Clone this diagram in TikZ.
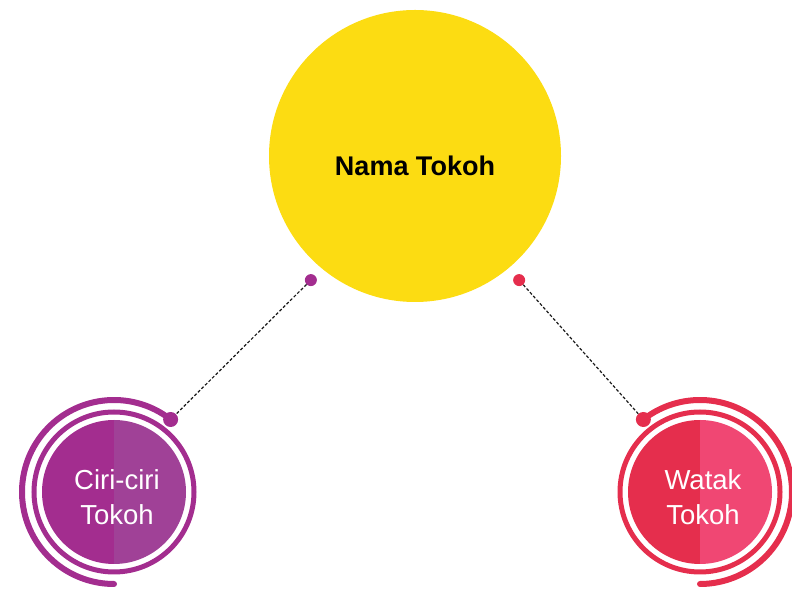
\documentclass[tikz,border=0pt]{standalone}
\usepackage{fontspec}
\setmainfont{Liberation Sans}
\usetikzlibrary{calc}
\definecolor{Sun}{HTML}{FCDC12}
\definecolor{PlumDeep}{HTML}{A32D8F}
\definecolor{PlumSoft}{HTML}{A04197}
\definecolor{RoseDeep}{HTML}{E52E4D}
\definecolor{RoseSoft}{HTML}{F04773}

\begin{document}
\begin{tikzpicture}[x=1pt,y=1pt,
  hub/.style={circle,fill=Sun,minimum size=292pt,inner sep=0pt},
  knob/.style={circle,inner sep=0pt,minimum size=#1},
  tag/.style={text=white,font=\fontsize{27.5}{35}\selectfont,align=center},
  link/.style={black!90,line width=1.2pt,dash pattern=on 3pt off 2pt}]
  \useasboundingbox (0,0) rectangle (792,591);
  \node[hub] (nama) at (415,435) {};
  \node[font=\bfseries\fontsize{27}{32}\selectfont] (namatxt) at (415,425) {Nama Tokoh};
  \node[knob=12pt,fill=PlumDeep] (namaL) at ($(nama)+(230:162)$) {};
  \node[knob=12pt,fill=RoseDeep] (namaR) at ($(nama)+(-50:162)$) {};
  \foreach \nm/\cx/\ca/\cb/\a/\b/\txt in {ciri/114/PlumDeep/PlumSoft/52/270/{Ciri-ciri\\Tokoh},watak/700/RoseDeep/RoseSoft/128/-90/{Watak\\Tokoh}}{
    \coordinate (\nm) at (\cx,99);
    \fill[\ca] (\nm) ++(90:72) arc (90:270:72pt) -- cycle;
    \fill[\cb] (\nm) ++(-90:72) arc (-90:90:72pt) -- cycle;
    \draw[\ca,line width=5pt] (\nm) circle (80pt);
    \draw[\ca,line width=6pt,line cap=round] (\nm) ++(\a:92) arc (\a:\b:92pt);
    \node[knob=15pt,fill=\ca] (\nm-dot) at ($(\nm)+(\a:92)$) {};
    \node[tag] (\nm-txt) at ($(\nm)+(3,-5)$) {\txt};
  }
  \draw[link] (namaL) -- (ciri-dot);
  \draw[link] (namaR) -- (watak-dot);
\end{tikzpicture}
\end{document}
